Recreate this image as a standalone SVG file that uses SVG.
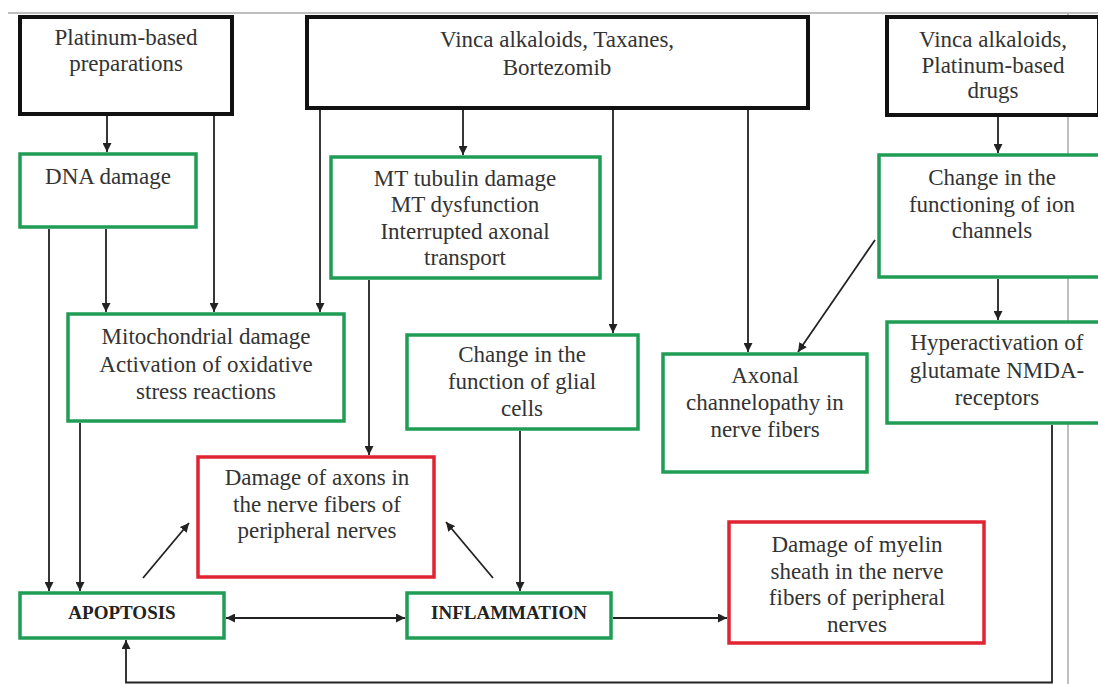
<svg xmlns="http://www.w3.org/2000/svg" width="1098" height="684" viewBox="0 0 1098 684">
<style>
.bg{fill:#ffffff}
.blk{fill:#fff;stroke:#111;stroke-width:4}
.grn{fill:#fff;stroke:#1f9d55;stroke-width:3.5}
.red{fill:#fff;stroke:#e02432;stroke-width:3.5}
.t{font-family:"Liberation Serif","Times New Roman","DejaVu Serif",serif;font-size:23px;fill:#333;text-anchor:middle}
.tb{font-family:"Liberation Serif","Times New Roman","DejaVu Serif",serif;font-size:19px;font-weight:bold;fill:#222;text-anchor:middle}
.c{fill:none;stroke:#222;stroke-width:1.8}
.pg{fill:none;stroke:#aaa;stroke-width:1.5}
</style>
<defs>
<marker id="ah" viewBox="0 0 10 10" refX="10" refY="5" markerWidth="5" markerHeight="5" orient="auto-start-reverse" markerUnits="strokeWidth">
<path d="M0,0 L10,5 L0,10 z" fill="#222"/>
</marker>
</defs>
<rect class="bg" x="0" y="0" width="1098" height="684"/>
<g id="page-lines">
<line class="pg" x1="8" y1="13" x2="1098" y2="13"/>
<line class="pg" x1="1068" y1="13" x2="1068" y2="684"/>
</g>
<g id="connectors">
<line class="c" x1="107" y1="116" x2="107" y2="152" marker-end="url(#ah)"/>
<line class="c" x1="214" y1="116" x2="214" y2="312" marker-end="url(#ah)"/>
<line class="c" x1="320" y1="110" x2="320" y2="312" marker-end="url(#ah)"/>
<line class="c" x1="463" y1="110" x2="463" y2="155" marker-end="url(#ah)"/>
<line class="c" x1="613" y1="110" x2="613" y2="333" marker-end="url(#ah)"/>
<line class="c" x1="748" y1="110" x2="748" y2="352" marker-end="url(#ah)"/>
<line class="c" x1="998" y1="117" x2="998" y2="153" marker-end="url(#ah)"/>
<line class="c" x1="49" y1="229" x2="49" y2="591" marker-end="url(#ah)"/>
<line class="c" x1="106" y1="229" x2="106" y2="312" marker-end="url(#ah)"/>
<line class="c" x1="80" y1="423" x2="80" y2="591" marker-end="url(#ah)"/>
<line class="c" x1="369" y1="280" x2="369" y2="455" marker-end="url(#ah)"/>
<line class="c" x1="520" y1="431" x2="520" y2="591" marker-end="url(#ah)"/>
<line class="c" x1="875" y1="240" x2="798" y2="352" marker-end="url(#ah)"/>
<line class="c" x1="998" y1="279" x2="998" y2="320" marker-end="url(#ah)"/>
<line class="c" x1="143" y1="578" x2="189" y2="523" marker-end="url(#ah)"/>
<line class="c" x1="493" y1="578" x2="446" y2="522" marker-end="url(#ah)"/>
<line class="c" x1="226" y1="618" x2="405" y2="618" marker-start="url(#ah)" marker-end="url(#ah)"/>
<line class="c" x1="613" y1="618" x2="727" y2="618" marker-end="url(#ah)"/>
<path class="c" d="M1052,425 V682.5 H126 V640" marker-end="url(#ah)"/>
</g>
<g id="n-platinum">
<rect class="blk" x="20" y="17" width="212" height="97"/>
<text class="t" x="126" y="45">Platinum-based</text>
<text class="t" x="126" y="71">preparations</text>
</g>
<g id="n-vinca">
<rect class="blk" x="307" y="17" width="501" height="91"/>
<text class="t" x="557" y="47">Vinca alkaloids, Taxanes,</text>
<text class="t" x="557" y="75">Bortezomib</text>
</g>
<g id="n-vinca-platinum">
<rect class="blk" x="887" y="17" width="212" height="98"/>
<text class="t" x="993" y="47">Vinca alkaloids,</text>
<text class="t" x="993" y="73">Platinum-based</text>
<text class="t" x="993" y="98">drugs</text>
</g>
<g id="n-dna">
<rect class="grn" x="20" y="154" width="176" height="73"/>
<text class="t" x="108" y="184">DNA damage</text>
</g>
<g id="n-mt">
<rect class="grn" x="331" y="157" width="269" height="121"/>
<text class="t" x="465" y="186">MT tubulin damage</text>
<text class="t" x="465" y="212">MT dysfunction</text>
<text class="t" x="465" y="239">Interrupted axonal</text>
<text class="t" x="465" y="265">transport</text>
</g>
<g id="n-ion">
<rect class="grn" x="879" y="155" width="226" height="122"/>
<text class="t" x="992" y="185">Change in the</text>
<text class="t" x="992" y="212">functioning of ion</text>
<text class="t" x="992" y="238">channels</text>
</g>
<g id="n-mito">
<rect class="grn" x="68" y="314" width="276" height="107"/>
<text class="t" x="206" y="344">Mitochondrial damage</text>
<text class="t" x="206" y="372">Activation of oxidative</text>
<text class="t" x="206" y="399">stress reactions</text>
</g>
<g id="n-glial">
<rect class="grn" x="407" y="335" width="231" height="94"/>
<text class="t" x="522" y="362">Change in the</text>
<text class="t" x="522" y="389">function of glial</text>
<text class="t" x="522" y="416">cells</text>
</g>
<g id="n-axonal">
<rect class="grn" x="663" y="354" width="204" height="118"/>
<text class="t" x="765" y="383">Axonal</text>
<text class="t" x="765" y="410">channelopathy in</text>
<text class="t" x="765" y="437">nerve fibers</text>
</g>
<g id="n-nmda">
<rect class="grn" x="887" y="322" width="220" height="101"/>
<text class="t" x="997" y="350">Hyperactivation of</text>
<text class="t" x="997" y="378">glutamate NMDA-</text>
<text class="t" x="997" y="405">receptors</text>
</g>
<g id="n-axons">
<rect class="red" x="198" y="457" width="236" height="120"/>
<text class="t" x="317" y="485">Damage of axons in</text>
<text class="t" x="317" y="512">the nerve fibers of</text>
<text class="t" x="317" y="538">peripheral nerves</text>
</g>
<g id="n-myelin">
<rect class="red" x="729" y="522" width="255" height="121"/>
<text class="t" x="857" y="552">Damage of myelin</text>
<text class="t" x="857" y="579">sheath in the nerve</text>
<text class="t" x="857" y="605">fibers of peripheral</text>
<text class="t" x="857" y="632">nerves</text>
</g>
<g id="n-apoptosis">
<rect class="grn" x="20" y="593" width="204" height="45"/>
<text class="tb" x="122" y="619">APOPTOSIS</text>
</g>
<g id="n-inflammation">
<rect class="grn" x="407" y="593" width="204" height="45"/>
<text class="tb" x="509" y="619">INFLAMMATION</text>
</g>
</svg>
